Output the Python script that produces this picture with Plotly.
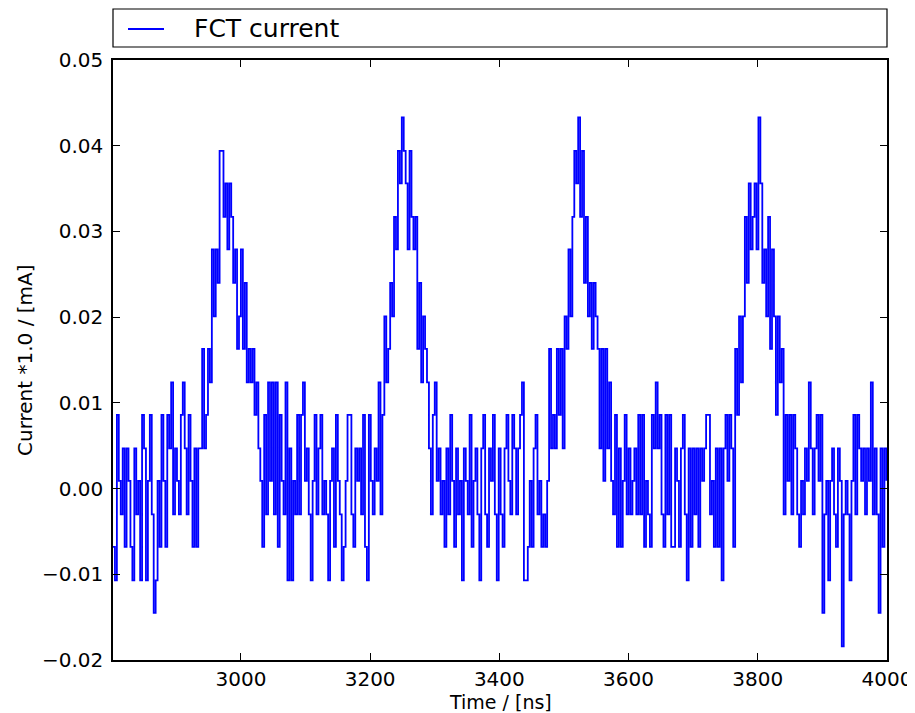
import plotly.graph_objects as go

# Sampling grid of the FCT trace (ns)
t_start_ns = 2802
dt_ns = 3

# FCT current (mA), one value per sample
current_mA = [
    # baseline before bunch 1
    -0.0068, -0.0107, 0.0086, 0.0009, -0.0030, 0.0047, -0.0068, 0.0047, 0.0009, -0.0068,
    -0.0107, 0.0047, -0.0030, 0.0009, -0.0107, 0.0086, 0.0047, -0.0107, 0.0009, 0.0086,
    -0.0030, -0.0145, -0.0107, 0.0009, -0.0068, 0.0086, 0.0009, -0.0068, 0.0086, 0.0047,
    0.0124, -0.0030, 0.0047, 0.0009, -0.0030, 0.0086, 0.0124, 0.0047, -0.0030, 0.0086,
    0.0009, -0.0068, 0.0047, -0.0068, 0.0047,
    # bunch 1
    0.0047, 0.0163, 0.0047, 0.0086, 0.0163, 0.0124, 0.0279, 0.0201, 0.0279, 0.0240,
    0.0394, 0.0394, 0.0317, 0.0356, 0.0279, 0.0356, 0.0317, 0.0240, 0.0279, 0.0163,
    0.0201, 0.0279, 0.0163, 0.0240, 0.0124, 0.0163, 0.0124, 0.0163, 0.0086, 0.0124,
    0.0047, 0.0009,
    # baseline
    -0.0068, 0.0086, -0.0030, 0.0124, 0.0009, 0.0124, -0.0030, 0.0124, -0.0068, 0.0086,
    0.0009, -0.0030, 0.0124, -0.0107, 0.0047, -0.0107, 0.0009, -0.0030, 0.0086, -0.0030,
    0.0086, 0.0124, 0.0009, 0.0047, -0.0030, -0.0107, 0.0009, 0.0086, -0.0030, 0.0047,
    0.0086, -0.0030, 0.0009, -0.0030, -0.0107, 0.0009, 0.0047, -0.0068, 0.0086, 0.0009,
    -0.0030, -0.0107, -0.0068, 0.0009, 0.0086, 0.0086, -0.0030, -0.0068, 0.0047, 0.0009,
    0.0047, -0.0030, 0.0086, -0.0068, -0.0107, 0.0086, 0.0009, -0.0030, 0.0047,
    # bunch 2
    0.0009, 0.0124, -0.0030, 0.0086, 0.0201, 0.0124, 0.0163, 0.0240, 0.0201, 0.0317,
    0.0279, 0.0394, 0.0356, 0.0433, 0.0394, 0.0356, 0.0279, 0.0394, 0.0317, 0.0279,
    0.0317, 0.0163, 0.0240, 0.0124, 0.0201, 0.0163, 0.0124, 0.0047, -0.0030, 0.0086,
    0.0124, 0.0009, 0.0047,
    # baseline
    -0.0030, 0.0009, -0.0068, 0.0047, -0.0030, 0.0086, 0.0009, -0.0068, 0.0047, -0.0030,
    0.0009, -0.0107, 0.0047, 0.0009, -0.0030, 0.0086, -0.0068, 0.0009, 0.0047, -0.0030,
    -0.0107, 0.0047, 0.0086, -0.0030, -0.0068, 0.0047, 0.0009, 0.0086, -0.0030, -0.0107,
    0.0047, -0.0030, -0.0068, 0.0047, 0.0086, 0.0009, -0.0030, 0.0086, 0.0047, -0.0030,
    0.0047, 0.0086, 0.0124, -0.0107, -0.0107, -0.0068, 0.0009, -0.0068, 0.0047, 0.0086,
    -0.0030, 0.0009, -0.0068, -0.0030, -0.0068, 0.0009,
    # bunch 3
    0.0163, 0.0047, 0.0086, 0.0047, 0.0163, 0.0086, 0.0163, 0.0047, 0.0201, 0.0163,
    0.0279, 0.0201, 0.0317, 0.0394, 0.0356, 0.0433, 0.0317, 0.0394, 0.0240, 0.0317,
    0.0201, 0.0240, 0.0163, 0.0240, 0.0201, 0.0163, 0.0047, 0.0163, 0.0009, 0.0163,
    0.0047, 0.0124,
    # baseline
    0.0009, -0.0030, 0.0086, -0.0068, 0.0047, -0.0068, 0.0009, 0.0086, -0.0030, 0.0047,
    -0.0030, 0.0009, 0.0047, -0.0030, 0.0086, -0.0030, 0.0086, -0.0068, 0.0009, -0.0030,
    -0.0068, 0.0086, 0.0047, 0.0124, 0.0047, 0.0086, -0.0030, -0.0068, 0.0086, -0.0030,
    0.0086, -0.0068, -0.0068, 0.0047, 0.0009, -0.0068, 0.0047, 0.0086, -0.0030, -0.0107,
    0.0047, -0.0068, 0.0047, -0.0030, 0.0047, -0.0068, 0.0047, 0.0009, 0.0047, 0.0086,
    0.0086, -0.0030, 0.0009, -0.0068, 0.0047, -0.0068, 0.0047,
    # bunch 4
    -0.0107, 0.0047, 0.0086, 0.0009, 0.0086, 0.0047, -0.0068, 0.0163, 0.0086, 0.0201,
    0.0124, 0.0201, 0.0317, 0.0240, 0.0356, 0.0279, 0.0317, 0.0356, 0.0279, 0.0433,
    0.0356, 0.0240, 0.0279, 0.0201, 0.0317, 0.0163, 0.0279, 0.0201, 0.0086, 0.0201,
    0.0124, 0.0163, -0.0030, 0.0086, 0.0009, 0.0086, -0.0030, 0.0086, 0.0047, -0.0030,
    -0.0068,
    # baseline after bunch 4
    0.0009, -0.0030, 0.0047, 0.0009, 0.0124, 0.0047, -0.0030, 0.0047, 0.0086, 0.0009,
    0.0086, -0.0145, -0.0030, 0.0009, -0.0107, 0.0009, 0.0047, -0.0030, -0.0068, 0.0047,
    0.0009, -0.0184, -0.0030, 0.0009, -0.0030, -0.0107, 0.0009, 0.0086, -0.0030, 0.0086,
    0.0047, 0.0009, 0.0047, -0.0030, 0.0047, 0.0009, 0.0124, -0.0030, 0.0047, -0.0030,
    -0.0145, 0.0047, -0.0068, 0.0047, 0.0009,
]

time_ns = [t_start_ns + i * dt_ns for i in range(len(current_mA))]

x_ticks = [3000, 3200, 3400, 3600, 3800, 4000]
y_ticks = [-0.02, -0.01, 0.00, 0.01, 0.02, 0.03, 0.04, 0.05]

FONT = "DejaVu Sans"
LINE_BLUE = "#0000ff"

# The page body adds an 8 px margin; figure sized to fill the rest of the window.
BODY = 8
FIG_W, FIG_H = 915 - BODY, 713 - BODY
# plot area in screen pixels: x 113..887, y 60..660
PLOT_L, PLOT_R, PLOT_T, PLOT_B = 113, 887, 60, 660

def px_x(px):
    return (px - PLOT_L) / (PLOT_R - PLOT_L)

def px_y(py):
    return (PLOT_B - py) / (PLOT_B - PLOT_T)

fig = go.Figure()
fig.add_trace(go.Scatter(
    x=time_ns, y=current_mA, mode="lines", name="FCT current",
    line=dict(color=LINE_BLUE, width=1.8, shape="hv"),
    showlegend=False,
))

axis_common = dict(
    showline=True, linecolor="black", linewidth=1.5, mirror="allticks",
    ticks="inside", ticklen=7, tickwidth=1, tickcolor="black",
    showgrid=False, zeroline=False,
    tickfont=dict(family=FONT, size=20, color="black"),
)

fig.update_layout(
    width=FIG_W, height=FIG_H,
    margin=dict(l=PLOT_L - BODY, r=FIG_W - (PLOT_R - BODY),
                t=PLOT_T - BODY, b=FIG_H - (PLOT_B - BODY), autoexpand=False),
    paper_bgcolor="white", plot_bgcolor="white",
    font=dict(family=FONT, color="black"),
    xaxis=dict(range=[2802, 4000], tickvals=x_ticks, ticktext=[str(v) for v in x_ticks],
               ticklabelstandoff=0, **axis_common),
    yaxis=dict(range=[-0.02, 0.05], tickvals=y_ticks, tickformat=".2f",
               ticklabelstandoff=4, **axis_common),
    showlegend=False,
    shapes=[
        # legend frame
        dict(type="rect", xref="paper", yref="paper",
             x0=0, x1=1, y0=px_y(47), y1=px_y(9),
             line=dict(color="black", width=1.2), fillcolor="rgba(0,0,0,0)"),
        # legend line sample
        dict(type="line", xref="paper", yref="paper",
             x0=px_x(128), x1=px_x(164), y0=px_y(29), y1=px_y(29),
             line=dict(color=LINE_BLUE, width=1.8)),
    ],
    annotations=[
        dict(text="FCT current", xref="paper", yref="paper",
             x=px_x(192), y=px_y(29), xanchor="left", yanchor="middle",
             showarrow=False, font=dict(family=FONT, size=25, color="black")),
        dict(text="Time / [ns]", xref="paper", yref="paper",
             x=0.5, y=px_y(702), xanchor="center", yanchor="middle",
             showarrow=False, font=dict(family=FONT, size=19, color="black")),
        dict(text="Current *1.0 / [mA]", xref="paper", yref="paper",
             x=px_x(25), y=0.5, xanchor="center", yanchor="middle", textangle=-90,
             showarrow=False, font=dict(family=FONT, size=20, color="black")),
    ],
)

fig.write_html("out.html")
